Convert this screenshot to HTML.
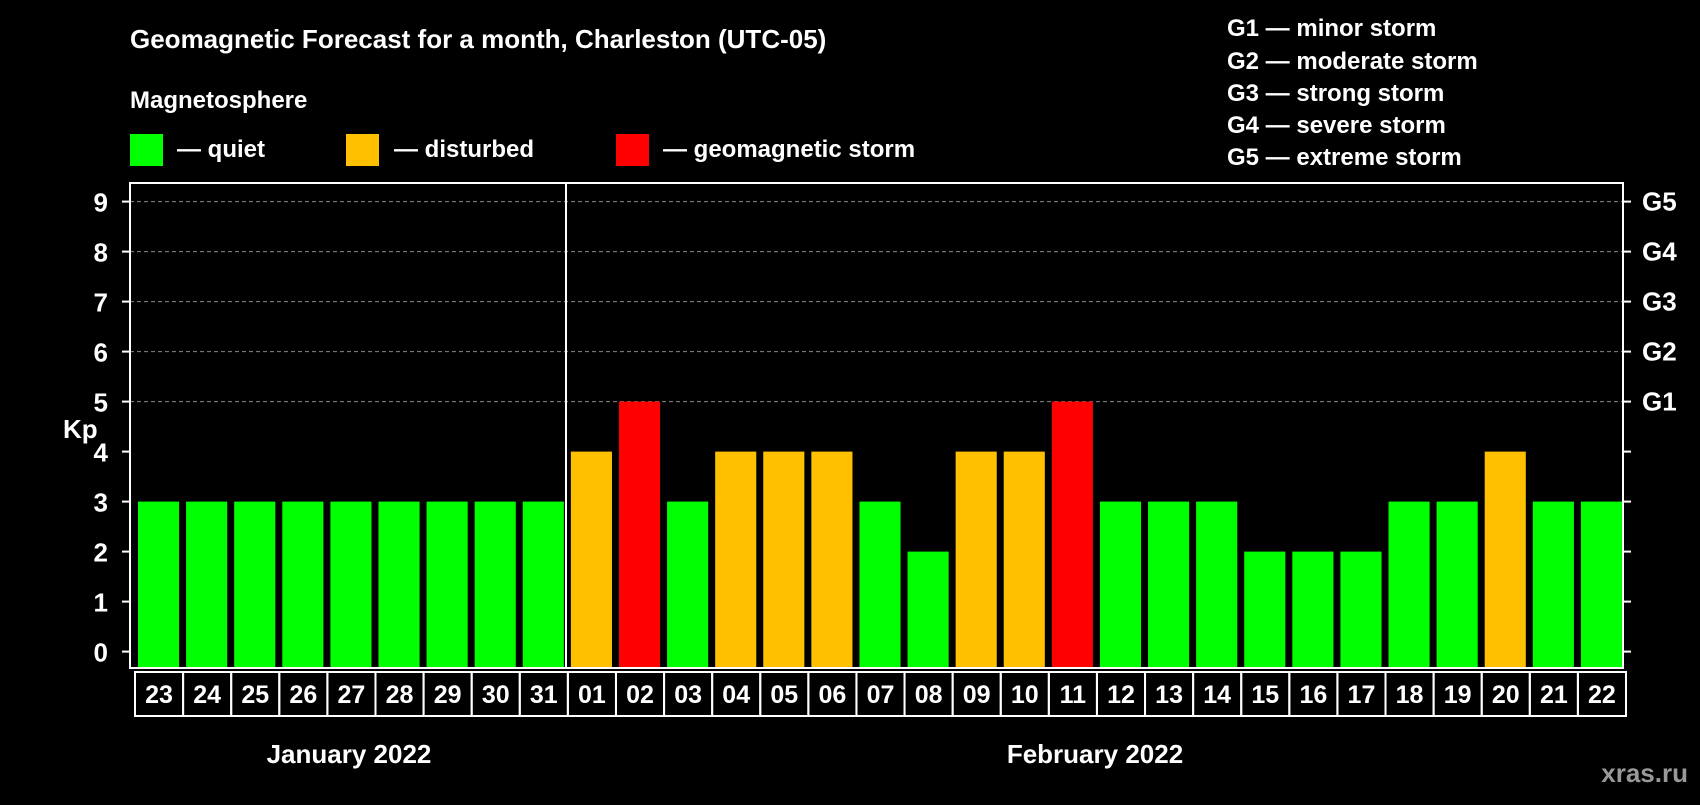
<!DOCTYPE html>
<html><head><meta charset="utf-8"><style>
body{margin:0;background:#000;width:1700px;height:800px;overflow:hidden}
svg text{font-family:"Liberation Sans",sans-serif;font-weight:bold;fill:#fff}
</style></head><body>
<svg id="c" width="1700" height="800" xmlns="http://www.w3.org/2000/svg">
<text x="130" y="48" font-size="26">Geomagnetic Forecast for a month, Charleston (UTC-05)</text>
<text x="130" y="108" font-size="24">Magnetosphere</text>
<rect x="130" y="134" width="33" height="32" fill="#00ff00"/>
<text x="177" y="157" font-size="24">— quiet</text>
<rect x="346" y="134" width="33" height="32" fill="#ffc000"/>
<text x="394" y="157" font-size="24">— disturbed</text>
<rect x="616" y="134" width="33" height="32" fill="#ff0000"/>
<text x="663" y="157" font-size="24">— geomagnetic storm</text>
<g font-size="24">
<text x="1227" y="36">G1 — minor storm</text>
<text x="1227" y="69">G2 — moderate storm</text>
<text x="1227" y="101">G3 — strong storm</text>
<text x="1227" y="133">G4 — severe storm</text>
<text x="1227" y="165">G5 — extreme storm</text>
</g>
<text x="63" y="438" font-size="26">Kp</text>
<text x="349" y="763" font-size="26" text-anchor="middle">January 2022</text>
<text x="1095" y="763" font-size="26" text-anchor="middle">February 2022</text>
<text x="1688" y="782" font-size="26" text-anchor="end" style="fill:#999">xras.ru</text>
<g id="grid"></g><g id="bars"></g><g id="xlab"></g>
<rect x="130" y="183" width="1493" height="485" fill="none" stroke="#fff" stroke-width="2"/>
<line x1="566" y1="183" x2="566" y2="668" stroke="#fff" stroke-width="2"/>
</svg>
<script>
const days=["23","24","25","26","27","28","29","30","31","01","02","03","04","05","06","07","08","09","10","11","12","13","14","15","16","17","18","19","20","21","22"];
const kp=[3,3,3,3,3,3,3,3,3,4,5,3,4,4,4,3,2,4,4,5,3,3,3,2,2,2,3,3,4,3,3];
const yTicks=[0,1,2,3,4,5,6,7,8,9];
const gLabels=["G1","G2","G3","G4","G5"];
const NS="http://www.w3.org/2000/svg";
const x0=131,slot=(1622-131)/days.length;
const y=v=>651.6-50*v;
const xs=i=>x0+slot*i;
function mk(t,a,p){const e=document.createElementNS(NS,t);for(const k in a)e.setAttribute(k,a[k]);p.appendChild(e);return e;}
const grid=document.getElementById('grid'),bars=document.getElementById('bars'),xl=document.getElementById('xlab');
yTicks.forEach(v=>{
  const t=mk('text',{x:108,y:y(v)+10,'font-size':26,'text-anchor':'end'},grid);t.textContent=v;
  
  
  mk('line',{x1:122,x2:130,y1:y(v),y2:y(v),stroke:'#fff','stroke-width':2},grid);
  mk('line',{x1:1623,x2:1631,y1:y(v),y2:y(v),stroke:'#fff','stroke-width':2},grid);
  if(v>=5){const g=mk('line',{x1:130,x2:1623,y1:y(v),y2:y(v),stroke:'#888','stroke-width':1,'stroke-dasharray':'4 3'},grid);
    
    }
});
gLabels.forEach((g,i)=>{const t=mk('text',{x:1642,y:y(5+i)+9,'font-size':26},grid);t.textContent=g;
  
  });
days.forEach((d,i)=>{
  const v=kp[i];const c=v>=5?'#ff0000':v>=4?'#ffc000':'#00ff00';
  const r=mk('rect',{x:xs(i)+7,y:y(v),width:slot-7,height:667-y(v),fill:c},bars);
  
  
  const b=mk('rect',{x:xs(i)+4,y:672,width:slot,height:44,fill:'none',stroke:'#fff','stroke-width':2},xl);
  
  
  const t=mk('text',{x:xs(i)+4+slot/2,y:703,'font-size':25,'text-anchor':'middle'},xl);t.textContent=d;
  
  
});
</script>
</body></html>
